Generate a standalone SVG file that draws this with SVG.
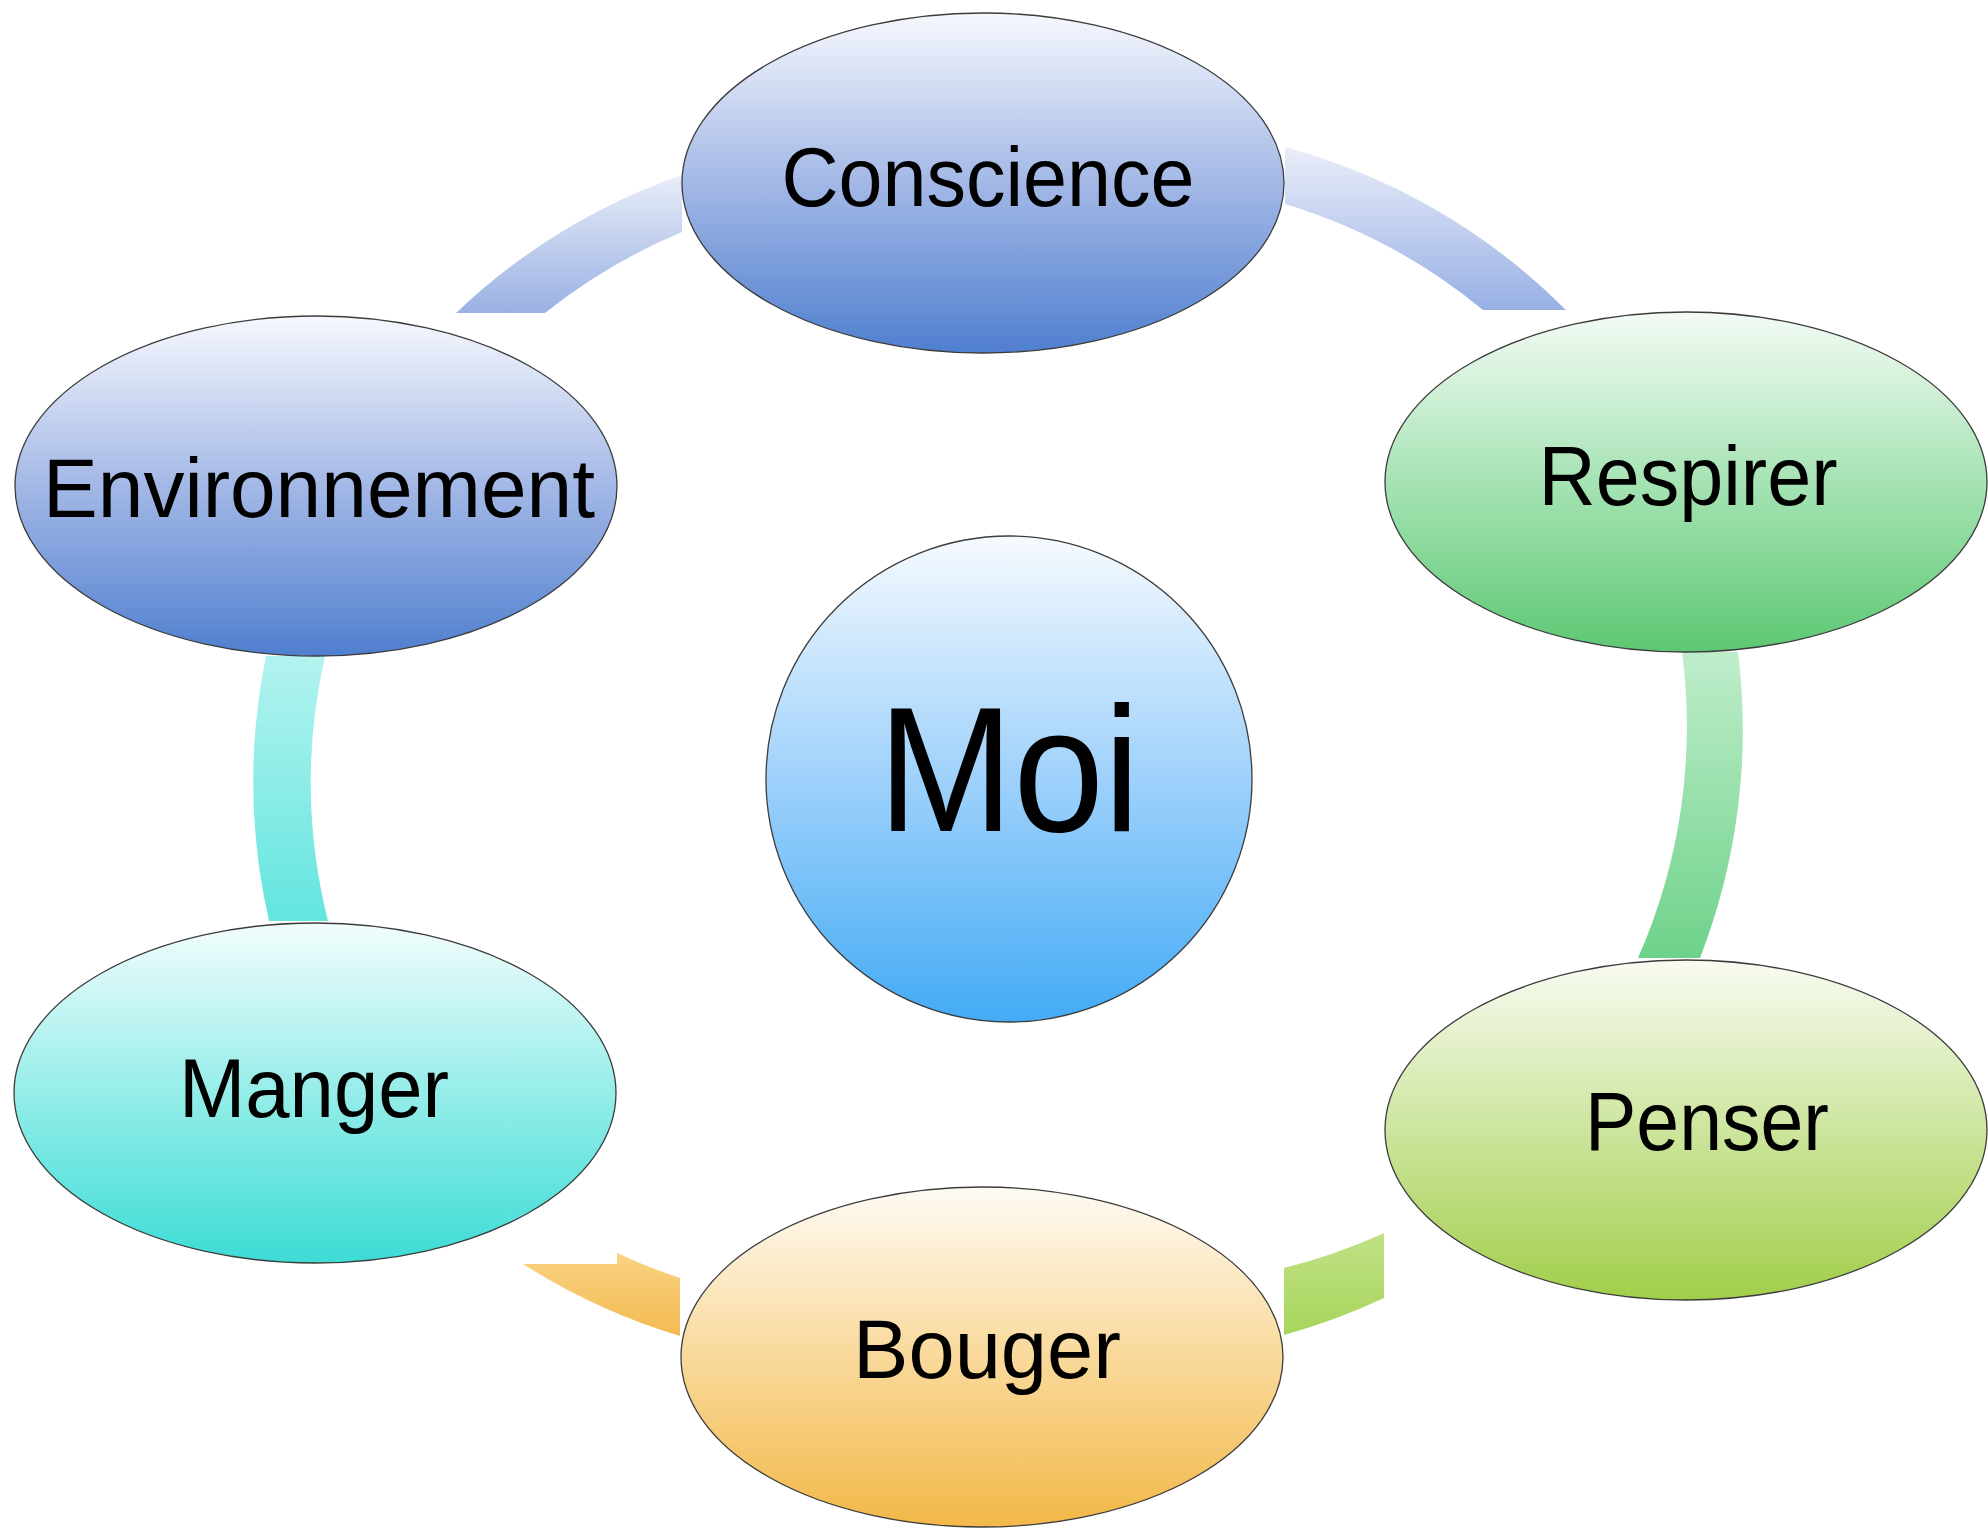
<svg xmlns="http://www.w3.org/2000/svg" width="1988" height="1529" viewBox="0 0 1988 1529">
  <style>
    .node { stroke: #3c3c3c; stroke-width: 1.3; }
    .label { font-family: "Liberation Sans", Arial, sans-serif; font-size: 84px; fill: #000; text-anchor: middle; }
    .big { font-size: 178px; }
  </style>
  <defs>
    <!-- node fills: pale at the top, saturated at the bottom -->
    <linearGradient id="gBlue" x1="0" y1="0" x2="0" y2="1">
      <stop offset="0" stop-color="#f6f8fd"/>
      <stop offset="0.5" stop-color="#a3b8e6"/>
      <stop offset="1" stop-color="#4f7fcf"/>
    </linearGradient>
    <linearGradient id="gGreen" x1="0" y1="0" x2="0" y2="1">
      <stop offset="0" stop-color="#f4fbf5"/>
      <stop offset="0.5" stop-color="#a6e3b4"/>
      <stop offset="1" stop-color="#5dc873"/>
    </linearGradient>
    <linearGradient id="gLime" x1="0" y1="0" x2="0" y2="1">
      <stop offset="0" stop-color="#f8fbf2"/>
      <stop offset="0.5" stop-color="#cde59e"/>
      <stop offset="1" stop-color="#a1ce4a"/>
    </linearGradient>
    <linearGradient id="gSky" x1="0" y1="0" x2="0" y2="1">
      <stop offset="0" stop-color="#f6fafe"/>
      <stop offset="0.5" stop-color="#9ed1fb"/>
      <stop offset="1" stop-color="#43abf5"/>
    </linearGradient>
    <linearGradient id="gCyan" x1="0" y1="0" x2="0" y2="1">
      <stop offset="0" stop-color="#f3fdfd"/>
      <stop offset="0.5" stop-color="#95ede9"/>
      <stop offset="1" stop-color="#3cdcd5"/>
    </linearGradient>
    <linearGradient id="gOrange" x1="0" y1="0" x2="0" y2="1">
      <stop offset="0" stop-color="#fefbf4"/>
      <stop offset="0.5" stop-color="#f9d99b"/>
      <stop offset="1" stop-color="#f2b848"/>
    </linearGradient>
    <!-- connector band fills -->
    <linearGradient id="cBlue1" x1="0" y1="0" x2="0" y2="1">
      <stop offset="0" stop-color="#e8edf8"/>
      <stop offset="1" stop-color="#9ab1e3"/>
    </linearGradient>
    <linearGradient id="cBlue2" x1="0" y1="0" x2="0" y2="1">
      <stop offset="0" stop-color="#eaeef9"/>
      <stop offset="1" stop-color="#98b0e4"/>
    </linearGradient>
    <linearGradient id="cGreen" x1="0" y1="0" x2="0" y2="1">
      <stop offset="0" stop-color="#bfedcb"/>
      <stop offset="1" stop-color="#6ed28a"/>
    </linearGradient>
    <linearGradient id="cCyan" x1="0" y1="0" x2="0" y2="1">
      <stop offset="0" stop-color="#b3f3ef"/>
      <stop offset="1" stop-color="#63e5df"/>
    </linearGradient>
    <linearGradient id="cOrange" x1="0" y1="0" x2="0" y2="1">
      <stop offset="0" stop-color="#f9d383"/>
      <stop offset="1" stop-color="#f3ba50"/>
    </linearGradient>
    <linearGradient id="cLime" x1="0" y1="0" x2="0" y2="1">
      <stop offset="0" stop-color="#c0e186"/>
      <stop offset="1" stop-color="#a8d55b"/>
    </linearGradient>
  </defs>

  <rect width="1988" height="1529" fill="#ffffff"/>

  <!-- curved bands linking neighbouring nodes -->
  <g id="connectors">
    <path d="M 456,313 A 630 630 0 0 1 682,175 L 682,232 A 572 572 0 0 0 545,313 Z" fill="url(#cBlue1)"/>
    <path d="M 1285,147 A 630 630 0 0 1 1566,310 L 1483,310 A 572 572 0 0 0 1285,204 Z" fill="url(#cBlue2)"/>
    <path d="M 1738,652 A 630 630 0 0 1 1700,958 L 1638,958 A 572 572 0 0 0 1682,652 Z" fill="url(#cGreen)"/>
    <path d="M 1284,1335 A 630 630 0 0 0 1384,1298 L 1384,1233 A 572 572 0 0 1 1284,1268 Z" fill="url(#cLime)"/>
    <path d="M 523,1264 L 617,1264 L 617,1253 A 572 572 0 0 0 680,1278 L 680,1336 A 630 630 0 0 1 523,1264 Z" fill="url(#cOrange)"/>
    <path d="M 269,921 A 630 630 0 0 1 266,656 L 325,656 A 572 572 0 0 0 328,921 Z" fill="url(#cCyan)"/>
  </g>

  <g id="node-conscience">
    <ellipse class="node" cx="983" cy="183" rx="301" ry="170" fill="url(#gBlue)"/>
    <text class="label" x="988" y="206" textLength="413" lengthAdjust="spacingAndGlyphs">Conscience</text>
  </g>
  <g id="node-respirer">
    <ellipse class="node" cx="1686" cy="482" rx="301" ry="170" fill="url(#gGreen)"/>
    <text class="label" x="1688" y="505" textLength="299" lengthAdjust="spacingAndGlyphs">Respirer</text>
  </g>
  <g id="node-penser">
    <ellipse class="node" cx="1686" cy="1130" rx="301" ry="170" fill="url(#gLime)"/>
    <text class="label" x="1707" y="1150" textLength="244" lengthAdjust="spacingAndGlyphs">Penser</text>
  </g>
  <g id="node-bouger">
    <ellipse class="node" cx="982" cy="1357" rx="301" ry="170" fill="url(#gOrange)"/>
    <text class="label" x="987" y="1378" textLength="268" lengthAdjust="spacingAndGlyphs">Bouger</text>
  </g>
  <g id="node-manger">
    <ellipse class="node" cx="315" cy="1093" rx="301" ry="170" fill="url(#gCyan)"/>
    <text class="label" x="314" y="1117" textLength="270" lengthAdjust="spacingAndGlyphs">Manger</text>
  </g>
  <g id="node-environnement">
    <ellipse class="node" cx="316" cy="486" rx="301" ry="170" fill="url(#gBlue)"/>
    <text class="label" x="319" y="517" textLength="552" lengthAdjust="spacingAndGlyphs">Environnement</text>
  </g>
  <g id="node-moi">
    <circle class="node" cx="1009" cy="779" r="243" fill="url(#gSky)"/>
    <text class="label big" x="1009" y="831" textLength="262" lengthAdjust="spacingAndGlyphs">Moi</text>
  </g>
</svg>
